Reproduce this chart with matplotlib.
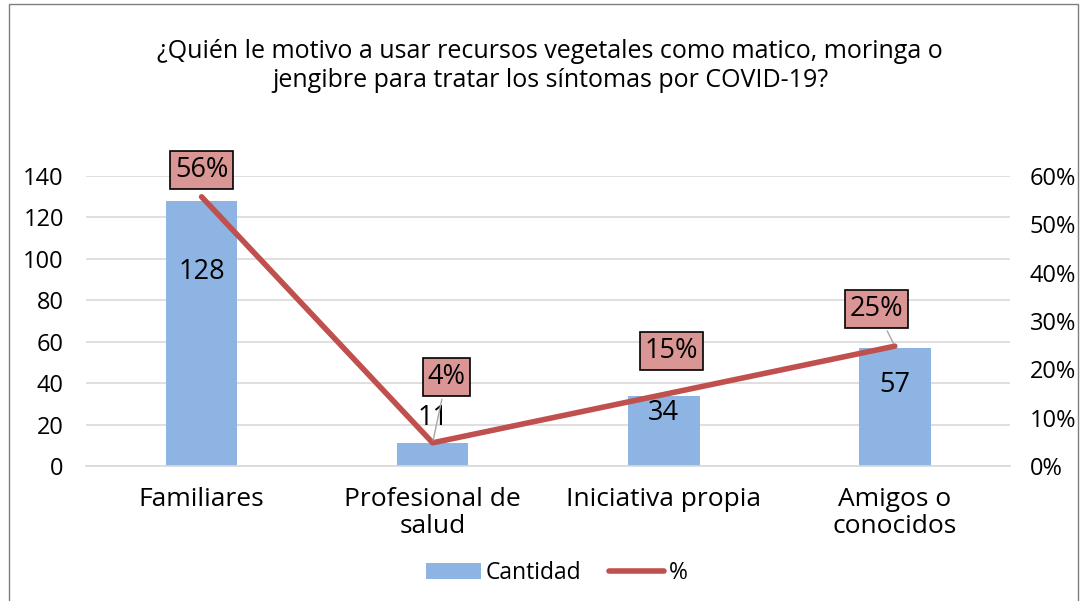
import matplotlib
matplotlib.use("Agg")
import matplotlib.pyplot as plt
from matplotlib.patches import Rectangle

# data
categorias = ["Familiares", "Profesional de\nsalud", "Iniciativa propia", "Amigos o\nconocidos"]
cantidad = [128, 11, 34, 57]
porcentaje = [55.7, 4.8, 14.8, 24.8]
etiquetas_pct = ["56%", "4%", "15%", "25%"]

# label positions (data units)
pos_cant = [(0, 93.7), (1, 23.2), (2, 25.6), (3, 39.0)]
pos_pct = [(0, 61.2), (1.06, 18.4), (2.035, 23.8), (2.92, 32.5)]

plt.rcParams['font.family'] = ['Open Sans', 'DejaVu Sans']

fig = plt.figure(figsize=(10.81, 6.01), dpi=100)
ax = fig.add_axes([0.0796, 0.2246, 0.855, 0.4825])
ax2 = ax.twinx()

x = list(range(len(categorias)))
ax.bar(x, cantidad, width=0.31, color="#8EB4E3", zorder=2, label="Cantidad")
ax.set_ylim(0, 140)
ax.set_xlim(-0.5, 3.5)
ax.set_yticks(range(0, 141, 20))
ax.yaxis.grid(True, color="#D9D9D9", lw=1.2, zorder=0)
ax.set_axisbelow(True)
ax.set_xticks(x)
ax.set_xticklabels(categorias, fontsize=19, linespacing=1.12)
ax.tick_params(axis='x', length=0, pad=15)
ax.tick_params(axis='y', length=0, labelsize=17, pad=16)
for s in ["top", "left", "right"]:
    ax.spines[s].set_visible(False)
ax.spines["bottom"].set_color("#D9D9D9")
ax.spines["bottom"].set_linewidth(1.2)

ax2.plot(x, porcentaje, color="#C0504D", lw=4, solid_capstyle="round", zorder=3, label="%")
ax2.set_ylim(0, 60)
ax2.set_yticks(range(0, 61, 10))
ax2.set_yticklabels([f"{v}%" for v in range(0, 61, 10)])
ax2.tick_params(axis='y', length=0, labelsize=17, pad=14)
for s in ["top", "left", "right", "bottom"]:
    ax2.spines[s].set_visible(False)

for v, (px, py) in zip(cantidad, pos_cant):
    ax.text(px, py, str(v), ha="center", va="center", fontsize=19.5, zorder=4)

for i, (lab, (px, py)) in enumerate(zip(etiquetas_pct, pos_pct)):
    conn = dict(arrowstyle="-", color="#A6A6A6", lw=1) if i in (1, 3) else None
    ax2.annotate(lab, xy=(x[i], porcentaje[i]), xytext=(px, py), ha="center", va="center",
                 fontsize=19.5, zorder=5,
                 bbox=dict(boxstyle="square,pad=0.18", fc="#D99694", ec="black", lw=1.2),
                 arrowprops=conn)

fig.text(0.509, 0.89, "¿Quién le motivo a usar recursos vegetales como matico, moringa o\n"
         "jengibre para tratar los síntomas por COVID-19?",
         ha="center", va="center", fontsize=18, linespacing=1.25)

h1, l1 = ax.get_legend_handles_labels()
h2, l2 = ax2.get_legend_handles_labels()
fig.legend(h1 + h2, l1 + l2, loc="center", bbox_to_anchor=(0.515, 0.047), ncol=2,
           frameon=False, fontsize=16.5, handlelength=2.4, handletextpad=0.2, columnspacing=1.2)

fig.add_artist(Rectangle((0.008, -0.01), 0.989, 1.004, transform=fig.transFigure,
                         fill=False, ec="#7F7F7F", lw=1))

fig.savefig("out.png", dpi=100)
